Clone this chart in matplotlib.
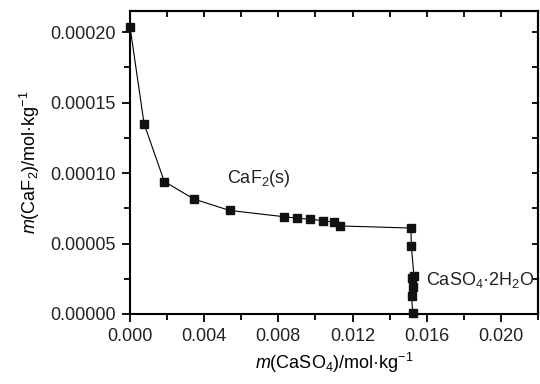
import matplotlib
matplotlib.use('Agg')
import matplotlib.pyplot as plt
from matplotlib.ticker import MultipleLocator, FormatStrFormatter

plt.rcParams['font.family'] = ['Liberation Sans', 'DejaVu Sans']
plt.rcParams['mathtext.fontset'] = 'custom'
plt.rcParams['mathtext.rm'] = 'Liberation Sans'
plt.rcParams['mathtext.it'] = 'Liberation Sans:italic'
plt.rcParams['text.color'] = '#222222'

# solubility data
m_caso4 = [0.0, 0.00076, 0.00185, 0.00346, 0.00537, 0.00832, 0.00903,
           0.00973, 0.01041, 0.01099, 0.0113, 0.01515, 0.01517, 0.01531,
           0.01522, 0.01527, 0.01518, 0.01525]
m_caf2 = [0.000204, 0.000135, 0.0000940, 0.0000815, 0.0000735, 0.0000690,
          0.0000680, 0.0000672, 0.0000662, 0.0000652, 0.0000625, 0.0000610,
          0.0000482, 0.0000272, 0.0000253, 0.0000191, 0.0000125, 0.0000005]

fig = plt.figure(figsize=(5.4, 3.84), dpi=100)
ax = fig.add_axes([0.2407, 0.1823, 0.7556, 0.789])

ax.plot(m_caso4, m_caf2, '-', color='black', linewidth=0.8,
        marker='s', markersize=5.3, markerfacecolor='#111111',
        markeredgecolor='#111111', clip_on=False, zorder=3)

ax.set_xlim(0, 0.022)
ax.set_ylim(0, 0.000215)
ax.xaxis.set_major_locator(MultipleLocator(0.004))
ax.xaxis.set_minor_locator(MultipleLocator(0.002))
ax.yaxis.set_major_locator(MultipleLocator(0.00005))
ax.yaxis.set_minor_locator(MultipleLocator(0.000025))
ax.xaxis.set_major_formatter(FormatStrFormatter('%.3f'))
ax.yaxis.set_major_formatter(FormatStrFormatter('%.5f'))

ax.tick_params(which='both', direction='out', top=False, right=False,
               labelsize=13, width=1.3, color='black', labelcolor='#222222')
ax.tick_params(which='major', length=6, pad=4)
ax.tick_params(which='minor', length=4)

# inward ticks on the top and right spines
sec_x = ax.secondary_xaxis('top')
sec_x.xaxis.set_major_locator(MultipleLocator(0.002))
sec_x.tick_params(direction='in', length=4, width=1.3, labeltop=False)
sec_y = ax.secondary_yaxis('right')
sec_y.yaxis.set_major_locator(MultipleLocator(0.000025))
sec_y.tick_params(direction='in', length=4, width=1.3, labelright=False)

for sp in ax.spines.values():
    sp.set_linewidth(1.5)
sec_x.spines['top'].set_linewidth(1.5)
sec_y.spines['right'].set_linewidth(1.5)

ax.set_xlabel(r'$m$(CaSO$_4$)/mol·kg$^{-1}$', fontsize=13, labelpad=4)
ax.set_ylabel(r'$m$(CaF$_2$)/mol·kg$^{-1}$', fontsize=13, labelpad=6)

ax.text(0.00524, 0.0000964, r'CaF$_2$(s)', fontsize=13, va='center')
ax.text(0.01595, 0.0000241, r'CaSO$_4$·2H$_2$O', fontsize=13, va='center')

fig.savefig('out.png', dpi=100)
